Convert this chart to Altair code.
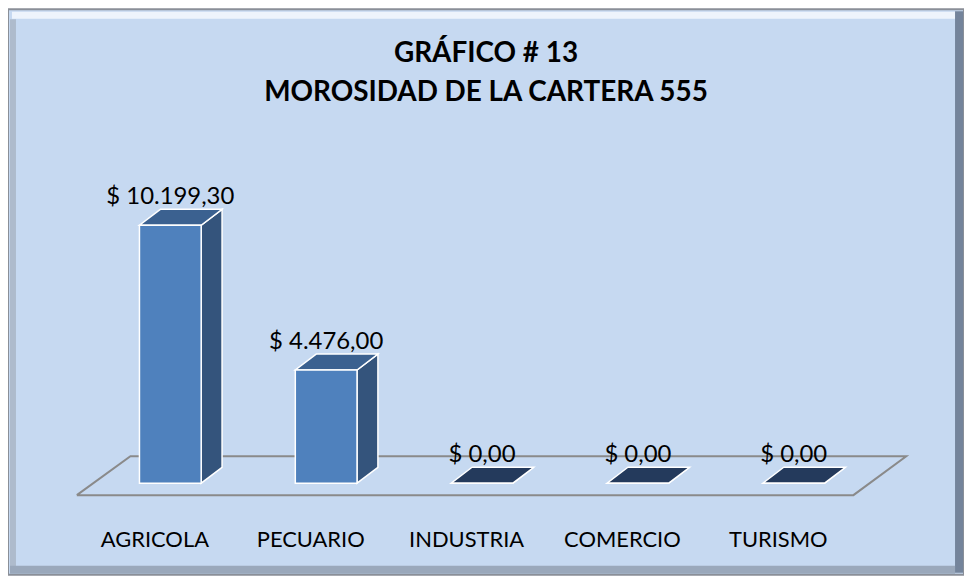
import altair as alt
import pandas as pd

# ---- data ----
categories = ["AGRICOLA", "PECUARIO", "INDUSTRIA", "COMERCIO", "TURISMO"]
values = [10199.30, 4476.00, 0.00, 0.00, 0.00]
title_lines = ["GRÁFICO # 13", "MOROSIDAD DE LA CARTERA 555"]


def fmt_money(v):
    s = f"{v:,.2f}"  # 10,199.30
    s = s.replace(",", "X").replace(".", ",").replace("X", ".")
    return "$ " + s


# ---- 3D geometry (in data units) ----
HW = 0.198      # half width of a bar, in category steps
DX = 0.134      # depth offset, in category steps
DY = 630.0      # depth offset, in value units

front_rows, side_rows, top_rows, label_rows = [], [], [], []
for i, (c, v) in enumerate(zip(categories, values)):
    front_rows.append({"cat": c, "x": i - HW, "x2": i + HW, "y": v, "y2": 0.0})
    side_rows.append({"cat": c, "x": i + HW, "y": v, "y2": 0.0})
    side_rows.append({"cat": c, "x": i + HW + DX, "y": v + DY, "y2": DY})
    top_rows.append({"cat": c, "y": v, "x": i - HW, "x2": i + HW, "zero": v == 0})
    top_rows.append({"cat": c, "y": v + DY, "x": i - HW + DX, "x2": i + HW + DX, "zero": v == 0})
    label_rows.append({"cat": c, "x": float(i), "y": v + DY, "label": fmt_money(v)})

front_df = pd.DataFrame(front_rows)
side_df = pd.DataFrame(side_rows)
top_df = pd.DataFrame(top_rows)
label_df = pd.DataFrame(label_rows)

n = len(categories)
floor_df = pd.DataFrame({
    "x": [-0.60, n - 1 + 0.383, n - 1 + 0.722, -0.256, -0.60],
    "y": [-473.0, -473.0, 1063.0, 1063.0, -473.0],
    "o": [0, 1, 2, 3, 4],
})

PX_PER_UNIT = 259.0 / 10199.3
BASE = 476.0
YMAX = 18000.0
W, H = 960, 568
xscale = alt.Scale(domain=[0, n - 1], range=[163, 163 + 156.5 * (n - 1)], nice=False, zero=False)
yscale = alt.Scale(domain=[0, YMAX], range=[BASE, BASE - YMAX * PX_PER_UNIT], nice=False, zero=False)

FONT = "Lato"

# decorative bevel of the chart frame
bevel_top = alt.Chart(pd.DataFrame({"k": [0]})).mark_rule(color="#EEF4FC", strokeWidth=7).encode(
    x=alt.value(4), x2=alt.value(W - 6), y=alt.value(6))
bevel_left = alt.Chart(pd.DataFrame({"k": [0]})).mark_rule(color="#AEBBCC", strokeWidth=6).encode(
    x=alt.value(5), y=alt.value(10), y2=alt.value(H - 6))
bevel_right = alt.Chart(pd.DataFrame({"k": [0]})).mark_rule(color="#74849B", strokeWidth=8).encode(
    x=alt.value(W - 5), y=alt.value(2), y2=alt.value(H - 2))
bevel_bottom = alt.Chart(pd.DataFrame({"k": [0]})).mark_rule(color="#9AA8BB", strokeWidth=8).encode(
    x=alt.value(2), x2=alt.value(W - 9), y=alt.value(H - 5))

floor = alt.Chart(floor_df).mark_line(color="#8A8A8A", strokeWidth=2).encode(
    x=alt.X("x:Q", scale=xscale,
            axis=alt.Axis(values=list(range(n)),
                          labelExpr="%s[datum.value]" % str(categories),
                          domain=False, ticks=False, grid=False, title=None,
                          labelFont=FONT, labelFontSize=22, labelColor="#000000",
                          labelPadding=0, labelBaseline="alphabetic",
                          labelFlush=False, labelOverlap=False, labelAlign="center",
                          labelOffset=-16, offset=-(H - 540))),
    y=alt.Y("y:Q", scale=yscale, axis=None),
    order="o:Q",
)

side = alt.Chart(side_df).mark_area(color="#34547C", stroke="white", strokeWidth=1.5).encode(
    x="x:Q", y="y:Q", y2="y2:Q", detail="cat:N",
)

top = alt.Chart(top_df).mark_area(orient="horizontal", stroke="white", strokeWidth=1.5).encode(
    y="y:Q", x="x:Q", x2="x2:Q", detail="cat:N",
    color=alt.condition("datum.zero", alt.value("#243A5C"), alt.value("#3B6190")),
)

front = alt.Chart(front_df).mark_rect(color="#4F81BD", stroke="white", strokeWidth=1.5).encode(
    x="x:Q", x2="x2:Q", y="y:Q", y2="y2:Q",
)

labels = alt.Chart(label_df).mark_text(font=FONT, fontSize=24, color="#000000",
                                       baseline="alphabetic", dy=-5).encode(
    x="x:Q", y="y:Q", text="label:N",
)

chart = alt.layer(bevel_top, bevel_left, bevel_right, bevel_bottom,
                  floor, side, top, front, labels).properties(
    width=W, height=H,
    padding=0,
    autosize=alt.AutoSizeParams(type="none"),
    title=alt.TitleParams(title_lines, font=FONT, fontSize=28, fontWeight="bold",
                          color="#000000", anchor="middle", lineHeight=39, offset=-100),
).configure_view(fill="#C6D9F1", stroke="#8A8F98", strokeWidth=2)

chart.save("out.html", embed_options={"renderer": "svg", "actions": False})
